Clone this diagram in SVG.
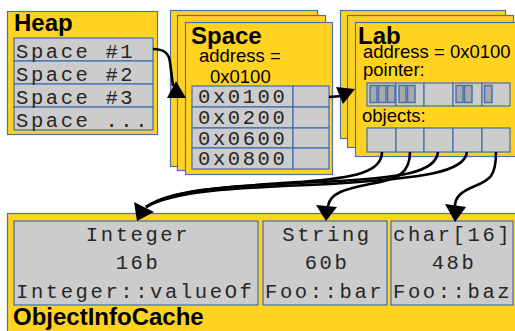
<svg xmlns="http://www.w3.org/2000/svg" width="515" height="331" viewBox="0 0 515 331">
<style>
.card{fill:#ffd320;stroke:#4a72b0;stroke-width:1.2}
.cell{fill:#cccccc;stroke:#3f6db0;stroke-width:1.2}
.sub{fill:#a9a9a9;stroke:#4a72b0;stroke-width:1.5}
.title{font-family:"Liberation Sans",Arial,sans-serif;font-weight:bold;font-size:24px;fill:#000}
.lbl{font-family:"Liberation Sans",Arial,sans-serif;font-size:18.5px;fill:#000}
.mono{font-family:"Liberation Mono","Courier New",monospace;font-size:20.5px;letter-spacing:2.6px;fill:#262626}
.mid{text-anchor:middle}
.edge{fill:none;stroke:#000;stroke-width:2.6}
.head{fill:#000;stroke:none}
</style>
<rect width="515" height="331" fill="#fff"/>

<g id="heap">
<rect class="card" x="7.5" y="11.5" width="150" height="123"/>
<text class="title" x="14" y="31">Heap</text>
<rect class="cell" x="14" y="38" width="139" height="23"/>
<rect class="cell" x="14" y="61" width="139" height="23"/>
<rect class="cell" x="14" y="84" width="139" height="23"/>
<rect class="cell" x="14" y="107" width="139" height="23"/>
<text class="mono" x="16" y="58">Space #1</text>
<text class="mono" x="16" y="81">Space #2</text>
<text class="mono" x="16" y="104">Space #3</text>
<text class="mono" x="16" y="127">Space ...</text>
</g>

<g id="space">
<rect class="card" x="170.5" y="10.5" width="147" height="156"/>
<rect class="card" x="177.5" y="15.5" width="148" height="155"/>
<rect class="card" x="185.5" y="22.5" width="147" height="152"/>
<text class="title" x="191" y="44">Space</text>
<text class="lbl" x="199" y="62">address =</text>
<text class="lbl" x="210" y="83">0x0100</text>
<rect class="cell" x="192" y="86" width="101" height="21"/>
<rect class="cell" x="293" y="86" width="36" height="21"/>
<rect class="cell" x="192" y="107" width="101" height="21"/>
<rect class="cell" x="293" y="107" width="36" height="21"/>
<rect class="cell" x="192" y="128" width="101" height="20"/>
<rect class="cell" x="293" y="128" width="36" height="20"/>
<rect class="cell" x="192" y="148" width="101" height="21"/>
<rect class="cell" x="293" y="148" width="36" height="21"/>
<text class="mono" x="198" y="103">0x0100</text>
<text class="mono" x="198" y="124">0x0200</text>
<text class="mono" x="198" y="145">0x0600</text>
<text class="mono" x="198" y="165">0x0800</text>
</g>

<g id="lab">
<rect class="card" x="340.5" y="10.5" width="165" height="128"/>
<rect class="card" x="347.5" y="15.5" width="166" height="132"/>
<rect class="card" x="355.5" y="22.5" width="170" height="134"/>
<text class="title" x="358" y="44">Lab</text>
<text class="lbl" x="363" y="58">address = 0x0100</text>
<text class="lbl" x="363" y="76">pointer:</text>
<rect class="cell" x="367" y="83" width="29" height="23"/>
<rect class="cell" x="396" y="83" width="28" height="23"/>
<rect class="cell" x="424" y="83" width="29" height="23"/>
<rect class="cell" x="453" y="83" width="29" height="23"/>
<rect class="cell" x="482" y="83" width="28" height="23"/>
<rect class="sub" x="370" y="85.5" width="7" height="17"/>
<rect class="sub" x="378.5" y="85.5" width="7.5" height="17"/>
<rect class="sub" x="387.5" y="85.5" width="7.5" height="17"/>
<rect class="sub" x="399" y="85.5" width="7" height="17"/>
<rect class="sub" x="407.5" y="85.5" width="7.5" height="17"/>
<rect class="sub" x="456" y="85.5" width="7" height="17"/>
<rect class="sub" x="464.5" y="85.5" width="7.5" height="17"/>
<rect class="sub" x="484.5" y="85.5" width="7.5" height="17"/>
<text class="lbl" x="362" y="122">objects:</text>
<rect class="cell" x="367" y="128" width="29" height="24"/>
<rect class="cell" x="396" y="128" width="28" height="24"/>
<rect class="cell" x="424" y="128" width="29" height="24"/>
<rect class="cell" x="453" y="128" width="29" height="24"/>
<rect class="cell" x="482" y="128" width="28" height="24"/>
</g>

<g id="cache">
<rect class="card" x="7.5" y="213.5" width="520" height="130"/>
<rect class="cell" x="14" y="221" width="244" height="84"/>
<rect class="cell" x="263" y="221" width="124" height="84"/>
<rect class="cell" x="391" y="221" width="122" height="84"/>
<text class="mono mid" x="138" y="241">Integer</text>
<text class="mono mid" x="138" y="269">16b</text>
<text class="mono" x="16" y="298">Integer::valueOf</text>
<text class="mono mid" x="327" y="241">String</text>
<text class="mono mid" x="327" y="269">60b</text>
<text class="mono" x="265" y="298">Foo::bar</text>
<text class="mono" x="393" y="241">char[16]</text>
<text class="mono mid" x="454" y="269">48b</text>
<text class="mono" x="393" y="298">Foo::baz</text>
<text class="title" x="13" y="325">ObjectInfoCache</text>
</g>

<g id="connectors">
<path class="edge" stroke-width="2" d="M153,49 C164,49 169,53 170,62 L173,86"/>
<polygon class="head" points="176,81 167,98 186,98"/>
<path class="edge" stroke-width="2" d="M329,97 L342,96"/>
<polygon class="head" points="336,87 355,89 343,104"/>
<path class="edge" d="M382,152 C382,172 355,178 300,182 C220,187 170,190 146,207"/>
<path class="edge" d="M438,152 C436,172 405,178 320,182 C225,186 172,190 146,207"/>
<path class="edge" d="M467,152 C465,172 425,178 330,184 C230,188 174,191 146,207"/>
<path class="edge" d="M410,152 C410,172 400,179 370,184 C345,189 330,193 328,206"/>
<path class="edge" d="M496,152 C496,176 490,180 475,186 C460,192 455,198 455,206"/>
<polygon class="head" points="134,202 154,212 137,221"/>
<polygon class="head" points="316,205 337,207 326,221"/>
<polygon class="head" points="445,204 466,207 455,222"/>
</g>
</svg>
